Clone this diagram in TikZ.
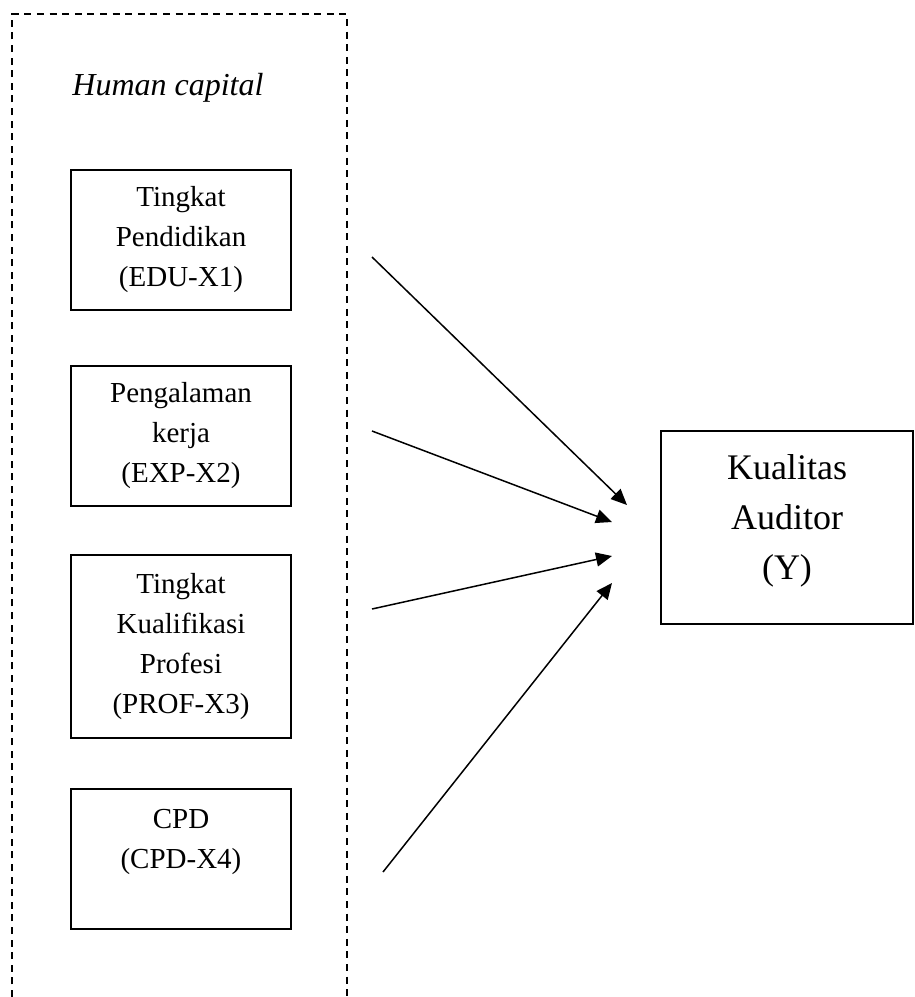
\documentclass[tikz,border=0pt]{standalone}
\usepackage{fontspec}
\setmainfont{Liberation Serif}
\usetikzlibrary{positioning}
\usetikzlibrary{arrows.meta}

\begin{document}
\begin{tikzpicture}
	[x=0.5pt, y=-0.5pt,
	align=center,
	>={Triangle[length=8pt,width=7pt]},
	varbox/.style={draw, line width=0.9pt, minimum width=110pt, minimum height=70pt, inner sep=0pt,
		font=\fontsize{14.5}{20}\selectfont},
	link/.style={->, line width=0.75pt}]
	
	\useasboundingbox (0,0) rectangle (915,997);
	
	% dashed frame
	\draw [line width=0.7pt, dash pattern=on 3.5pt off 2.8pt] (12,997) -- (12,14) -- (347,14) -- (347,997);
	\node [anchor=base west, inner sep=0pt, font=\fontsize{16}{19}\selectfont\itshape] (hc) at (72,95) {Human capital};
	
	% nodes
	\node [varbox] (edu) at (181,240) {Tingkat\\Pendidikan\\(EDU-X1)};
	\node [varbox] (exp) at (181,436) {Pengalaman\\kerja\\(EXP-X2)};
	\node [varbox, minimum height=91.5pt] (prof) at (181,646.5) {Tingkat\\Kualifikasi\\Profesi\\(PROF-X3)};
	\node [varbox] (cpd) at (181,859) {CPD\\(CPD-X4)\\\mbox{}};
	\node [draw, line width=0.9pt, minimum width=126pt, minimum height=96.5pt, inner sep=0pt,
		font=\fontsize{18}{25}\selectfont] (kual) at (787,527.5) {Kualitas\\Auditor\\(Y)\\[-15pt]\mbox{}};
	
	% arrow ends
	\coordinate (edu-out)  at (372,257);
	\coordinate (exp-out)  at (372,431);
	\coordinate (prof-out) at (372,609);
	\coordinate (cpd-out)  at (383,872);
	\coordinate (edu-in)   at (627,505);
	\coordinate (exp-in)   at (612,522);
	\coordinate (prof-in)  at (612,556);
	\coordinate (cpd-in)   at (612,583);
	
	% arrows
	\draw [link] (edu-out)  -- (edu-in);
	\draw [link] (exp-out)  -- (exp-in);
	\draw [link] (prof-out) -- (prof-in);
	\draw [link] (cpd-out)  -- (cpd-in);
\end{tikzpicture}
\end{document}
